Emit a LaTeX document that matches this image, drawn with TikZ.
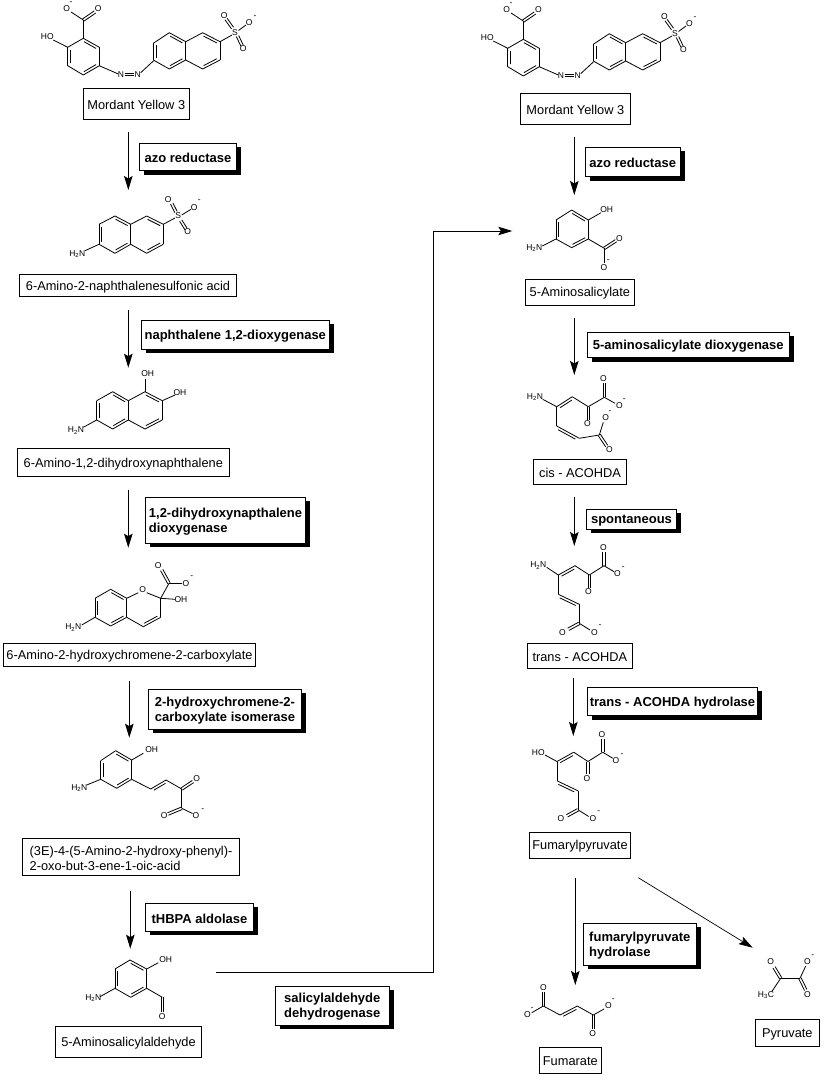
\documentclass[tikz,border=0pt]{standalone}
\usepackage{fontspec}
\setmainfont{Liberation Sans}
\usetikzlibrary{arrows.meta,calc}
\newcount\atomno
\tikzset{
  labelbox/.style={draw=black,fill=white,line width=1pt,inner sep=0pt},
  labeltext/.style={inner sep=0pt,yshift=-1.3pt,font=\fontsize{12.8}{15}\selectfont,align=left},
  enztext/.style={inner sep=0pt,yshift=-1.3pt,font=\fontsize{13}{15}\selectfont\bfseries,align=left},
  conn/.style={draw=black,line width=1pt,-{Stealth[length=14pt,width=8.5pt,inset=2.5pt]}},
  thinconn/.style={conn,line width=0.7pt},
  bondline/.style={draw=black,line width=0.8pt},
  atomlabel/.style={inner sep=0pt,font=\fontsize{8.5}{9}\selectfont}
}
% box with corners given
\newcommand\lbox[6]{\pgfmathsetmacro\bw{#4-#2}\pgfmathsetmacro\bh{#5-#3}\pgfmathsetmacro\bcx{(#2+#4)/2}\pgfmathsetmacro\bcy{(#3+#5)/2}
  \node[labelbox,minimum width=\bw pt,minimum height=\bh pt,label={[labeltext]center:{#6}}] (#1) at (\bcx,\bcy) {};}
\newcommand\ebox[6]{\pgfmathsetmacro\bw{#4-#2}\pgfmathsetmacro\bh{#5-#3}\pgfmathsetmacro\bcx{(#2+#4)/2}\pgfmathsetmacro\bcy{(#3+#5)/2}
  \fill[black] (#2+4.5,#3+4) rectangle (#4+4.5,#5+4);
  \node[labelbox,minimum width=\bw pt,minimum height=\bh pt,label={[enztext]center:{#6}}] (#1) at (\bcx,\bcy) {};}
\newcommand\arrowv[5]{\coordinate (#1s) at (#2,#3);\coordinate (#1e) at (#4,#5);\draw[conn] (#1s) -- (#1e);}
% bonds
\newcommand\bd[2]{\draw[bondline] (#1) -- (#2);}
\newcommand\rd[2]{\draw[bondline] (#1) -- (#2);
  \draw[bondline] ($(#1)!.12!(#2)!-2.6pt!90:(#2)$) -- ($(#2)!.12!(#1)!-2.6pt!-90:(#1)$);}
\newcommand\sd[2]{\draw[bondline] ($(#1)!1.3pt!90:(#2)$) -- ($(#2)!1.3pt!-90:(#1)$);
  \draw[bondline] ($(#1)!1.3pt!-90:(#2)$) -- ($(#2)!1.3pt!90:(#1)$);}
\newcommand\atm[2]{\global\advance\atomno by 1 \node[atomlabel] (atom\the\atomno) at (#1) {#2};}
\newcommand\chg[1]{\global\advance\atomno by 1 \node[atomlabel] (atom\the\atomno) at (#1) {-};}
\newcommand\HHN{H\textsubscript{2}N}
\newcommand\mordantmol{
  \rd{83.3,38.3}{99.3,47.3}\bd{99.3,47.3}{99.3,65.7}\rd{99.3,65.7}{83.3,75}\bd{83.3,75}{67.7,65.7}\rd{67.7,65.7}{67.7,47.3}\bd{67.7,47.3}{83.3,38.3}
  \bd{83.3,38.3}{83.3,20}\sd{83.3,20}{95,12}\bd{83.3,20}{71,12}
  \atm{98.3,9}{O}\atm{66.7,9}{O}\chg{71,3.5}\atm{47.3,36.7}{HO}\bd{53.3,40}{67.7,47.3}
  \bd{99.3,65.7}{118.3,74}\atm{121,75}{N}\atm{137.7,75}{N}\sd{124.5,74.5}{134,74.5}\bd{140.7,72.7}{153.3,61}
  \rd{153.3,60}{153.3,43.3}\bd{153.3,43.3}{169.3,32.7}\rd{169.3,32.7}{185.7,41.7}\bd{185.7,41.7}{185.7,60}\rd{185.7,60}{169.3,69}\bd{169.3,69}{153.3,60}
  \bd{185.7,41.7}{202.7,32.7}\rd{202.7,32.7}{220,41.7}\bd{220,41.7}{220,60}\rd{220,60}{202.7,69}\bd{202.7,69}{185.7,60}
  \bd{220,41.7}{232,35}\atm{235,32.3}{S}\sd{232.5,28}{226,19}\sd{237.5,36}{242,45.5}\bd{238.5,30.5}{246,25}
  \atm{224.3,15.7}{O}\atm{243.3,49}{O}\atm{249.3,22.7}{O}\chg{255,17}
}
\newcommand\acochain{
  \rd{558.3,575}{575,565.7}\bd{575,565.7}{589.3,575}\sd{589.3,575}{589.3,587.7}\atm{588.3,591.7}{O}
  \bd{589.3,575}{604,565.7}\sd{604,565.7}{604,552.3}\atm{603.3,547.7}{O}\bd{604,565.7}{614,571.7}\atm{617.3,574}{O}\chg{623.3,568.3}
  \bd{558.3,575}{558.3,594.3}\rd{558.3,594.3}{579.3,604.3}\bd{579.3,604.3}{579.3,623.3}
  \sd{579.3,623.3}{568.3,629.3}\atm{562.3,632.3}{O}\bd{579.3,623.3}{590,630}\atm{594.3,632.3}{O}\chg{600,626}
}
\begin{document}
\begin{tikzpicture}[x=1pt,y=-1pt]
\useasboundingbox (0,0) rectangle (836,1081);
\fill[white] (0,0) rectangle (836,1081);

% ---- left column molecules
\begin{scope}\mordantmol\end{scope}
\begin{scope}[shift={(440,1)}]\mordantmol\end{scope}

% 6-amino-2-naphthalenesulfonic acid
\rd{99,244.3}{99,224.3}\bd{99,224.3}{115,216}\rd{115,216}{130.7,224.3}\bd{130.7,224.3}{130.7,244.3}\rd{130.7,244.3}{115,253.3}\bd{115,253.3}{99,244.3}
\bd{130.7,224.3}{146.7,216}\rd{146.7,216}{163.3,224.3}\bd{163.3,224.3}{163.3,244.3}\rd{163.3,244.3}{146.7,253.3}\bd{146.7,253.3}{130.7,244.3}
\bd{163.3,224.3}{175,218}\atm{178.3,216}{S}\sd{176,212}{171.7,203.5}\sd{180.7,220.5}{186,229}\bd{181.7,215}{191,209.3}
\atm{168.3,200}{O}\atm{187.7,231.7}{O}\atm{194.3,207.3}{O}\chg{199.3,201.7}
\atm{77.3,254}{\HHN}\bd{85,250.7}{99,244.3}

% 6-amino-1,2-dihydroxynaphthalene
\rd{96.7,420}{96.7,400.7}\bd{96.7,400.7}{112.7,391.7}\rd{112.7,391.7}{128.3,400.7}\bd{128.3,400.7}{128.3,420}\rd{128.3,420}{112.7,429}\bd{112.7,429}{96.7,420}
\bd{128.3,400.7}{145,391.7}\rd{145,391.7}{162.3,400.7}\bd{162.3,400.7}{162.3,420}\rd{162.3,420}{145,429}\bd{145,429}{128.3,420}
\bd{145,391.7}{145,378.5}\atm{147.7,374}{OH}\bd{162.3,400.7}{175,395}\atm{180,392.3}{OH}
\atm{76,430.7}{\HHN}\bd{83.3,427.3}{96.7,420}

% chromene
\rd{95,617.3}{95,598.3}\bd{95,598.3}{110.7,589.3}\rd{110.7,589.3}{126.7,598.3}\bd{126.7,598.3}{126.7,617.3}\rd{126.7,617.3}{110.7,626}\bd{110.7,626}{95,617.3}
\bd{126.7,598.3}{138.3,592.7}\atm{142.7,590}{O}\bd{146.7,592.7}{160.7,598.3}\bd{160.7,598.3}{160.7,617.3}\rd{160.7,617.3}{143.3,626.7}\bd{143.3,626.7}{126.7,617.3}
\bd{160.7,598.3}{169,583.3}\sd{169,583.3}{161.7,570}\atm{158.3,565.7}{O}\bd{169,583.3}{181.7,583.3}\atm{186,583.3}{O}\chg{191.7,577.3}
\bd{160.7,598.3}{175,599.3}\atm{181,599.3}{OH}
\atm{73.3,627.7}{\HHN}\bd{81.7,625}{95,617.3}

% hydroxyphenyl oxobutenoic acid
\rd{100.7,779.3}{100.7,760.7}\bd{100.7,760.7}{115.7,750.7}\rd{115.7,750.7}{131.7,760}\bd{131.7,760}{131.7,779.3}\rd{131.7,779.3}{116.7,788.3}\bd{116.7,788.3}{100.7,779.3}
\bd{131.7,760}{143.3,753.3}\atm{151.7,750}{OH}\atm{79.3,788.3}{\HHN}\bd{86.7,785}{100.7,779.3}
\bd{131.7,779.3}{150.7,789}\rd{150.7,789}{166,780}\bd{166,780}{181.7,789}\sd{181.7,789}{193,781.5}\atm{196.7,779}{O}
\bd{181.7,789}{181.7,808.3}\sd{181.7,808.3}{168,814}\atm{164.3,816}{O}\bd{181.7,808.3}{192.5,813.5}\atm{196,816}{O}\chg{202.7,810}

% 5-aminosalicylaldehyde
\rd{115,988.3}{115,969}\bd{115,969}{130,960}\rd{130,960}{146.7,969}\bd{146.7,969}{146.7,988.3}\rd{146.7,988.3}{130.7,997.3}\bd{130.7,997.3}{115,988.3}
\bd{146.7,969}{158.3,962.7}\atm{165.7,960}{OH}\atm{93.3,998.3}{\HHN}\bd{100,996.7}{115,988.3}
\bd{146.7,988.3}{162.3,997.3}\sd{162.3,997.3}{162.3,1011.7}\atm{162.3,1016.7}{O}

% ---- right column molecules
% 5-aminosalicylate
\rd{556,239}{556,220}\bd{556,220}{571.7,210}\rd{571.7,210}{588.3,220}\bd{588.3,220}{588.3,239}\rd{588.3,239}{571.7,247.7}\bd{571.7,247.7}{556,239}
\bd{588.3,220}{601,212.7}\atm{606.7,210}{OH}\atm{534.3,248.3}{\HHN}\bd{542.3,246}{556,239}
\bd{588.3,239}{604.3,248.3}\sd{604.3,248.3}{616,240.7}\atm{619.3,239}{O}\bd{604.3,248.3}{604.3,262.7}\atm{604,267.3}{O}\chg{608.3,261}

% cis-ACOHDA
\atm{535,397.3}{\HHN}\bd{542.7,399.3}{556.7,406.7}
\rd{556.7,406.7}{572.3,396.7}\bd{572.3,396.7}{588.3,406.7}\sd{588.3,406.7}{588.3,420}\atm{587.3,424}{O}
\bd{588.3,406.7}{604.3,397.3}\sd{604.3,397.3}{604.3,383.3}\atm{603.3,379}{O}\bd{604.3,397.3}{615,403.3}\atm{619.3,406}{O}\chg{624.3,400.7}
\bd{556.7,406.7}{556.7,426}\rd{556.7,426}{579.3,438.3}\bd{579.3,438.3}{599.3,435}
\bd{599.3,435}{603.3,422.3}\atm{605.7,418}{O}\chg{610,412}\sd{599.3,435}{606.7,446}\atm{609.3,450}{O}

% trans-ACOHDA
\atm{538.3,565.7}{\HHN}\bd{546.7,567.3}{558.3,575}
\begin{scope}\acochain\end{scope}

% Fumarylpyruvate
\atm{538.3,752.3}{HO}\bd{545,755}{557,761.5}
\begin{scope}[shift={(-1.3,186.5)}]\acochain\end{scope}

% Fumarate
\atm{543.3,987.3}{O}\sd{543.3,1006}{543.3,991.7}\bd{543.3,1006}{531.7,1012.7}\atm{527.3,1015}{O}\chg{532.3,1009.3}
\bd{543.3,1006}{560,1015}\rd{560,1015}{577.3,1006}\bd{577.3,1006}{593.3,1015}\bd{593.3,1015}{604,1009}\atm{608.3,1006}{O}\chg{613.3,1000}
\sd{593.3,1015}{593.3,1029.3}\atm{592.7,1034}{O}

% Pyruvate
\atm{770.7,961.7}{O}\sd{780.7,978.3}{774,967.3}\bd{780.7,978.3}{800,978.3}\bd{800,978.3}{805.7,966}\atm{807.3,961.7}{O}\chg{812.7,956}
\sd{800,978.3}{805.7,990}\atm{807.3,994.3}{O}\bd{780.7,978.3}{771.7,991.7}\atm{766,995}{H\textsubscript{3}C}

% ---- name boxes
\lbox{mordL}{83.3}{88.3}{189.3}{119}{Mordant Yellow 3}
\lbox{naphsulf}{19.3}{274.3}{236.7}{296.7}{6-Amino-2-naphthalenesulfonic acid}
\lbox{dihydroxy}{17.3}{448.3}{229.3}{476.7}{6-Amino-1,2-dihydroxynaphthalene}
\lbox{chromene}{3.3}{643.3}{255.7}{666}{6-Amino-2-hydroxychromene-2-carboxylate}
\lbox{hbpa}{22.3}{838.3}{239.7}{875.7}{(3E)-4-(5-Amino-2-hydroxy-phenyl)-\\2-oxo-but-3-ene-1-oic-acid}
\lbox{aldehyde}{55.3}{1026.3}{201.7}{1057.3}{5-Aminosalicylaldehyde}
\lbox{mordR}{520}{93.7}{630.7}{124}{Mordant Yellow 3}
\lbox{salicylate}{525}{279.3}{634.7}{305.3}{5-Aminosalicylate}
\lbox{cisa}{533.3}{459.3}{626.7}{484.7}{cis - ACOHDA}
\lbox{transa}{527.3}{643.3}{632.3}{668.7}{trans - ACOHDA}
\lbox{fumpyr}{529.3}{832.3}{630.7}{858.3}{Fumarylpyruvate}
\lbox{fumarate}{539.3}{1047.3}{601.3}{1073.3}{Fumarate}
\lbox{pyruvate}{755.3}{1019.3}{819.3}{1046.3}{Pyruvate}

% ---- enzyme boxes
\ebox{azoL}{139.3}{143.3}{236.7}{170.7}{azo reductase}
\ebox{napdiox}{141.3}{320.3}{329.3}{349.3}{naphthalene 1,2-dioxygenase}
\ebox{dhndiox}{145.3}{497.3}{305.7}{543.3}{1,2-dihydroxynapthalene\\dioxygenase}
\ebox{isomerase}{148.3}{689.3}{301.7}{729.3}{2-hydroxychromene-2-\\carboxylate isomerase}
\ebox{aldolase}{145.3}{903.3}{253.7}{931.3}{tHBPA aldolase}
\ebox{aldehydrogenase}{275.3}{986.3}{389.3}{1025.3}{salicylaldehyde\\dehydrogenase}
\ebox{azoR}{585.3}{147}{680}{176.7}{azo reductase}
\ebox{asadiox}{587.3}{332.3}{789.3}{357.7}{5-aminosalicylate dioxygenase}
\ebox{spont}{586.7}{509.3}{676.3}{529.3}{spontaneous}
\ebox{transhyd}{587.3}{687.3}{757.7}{715.7}{trans - ACOHDA hydrolase}
\ebox{fumhyd}{583.3}{923.3}{696.3}{965.3}{fumarylpyruvate\\hydrolase}

% ---- connectors
\arrowv{a1}{128.3}{132}{128.3}{190}
\arrowv{a2}{128.3}{310}{128.3}{367.7}
\arrowv{a3}{128.3}{490}{128.3}{547.7}
\arrowv{a4}{129.3}{681}{129.3}{737.7}
\arrowv{a5}{130.3}{891}{130.3}{948.7}
\coordinate (h1) at (216,972.3);\coordinate (h2) at (433.7,972.3);\coordinate (h3) at (433.7,231);\coordinate (h4) at (512.3,231);
\draw[conn] (h1) -- (h2) -- (h3) -- (h4);
\arrowv{b1}{574.3}{136.7}{574.3}{195}
\arrowv{b2}{574.3}{317.7}{574.3}{375}
\arrowv{b3}{574.3}{496.7}{574.3}{546}
\arrowv{b4}{573.3}{677.7}{573.3}{736}
\arrowv{b5}{575.3}{877.7}{575.3}{985}
\coordinate (b6s) at (638.3,877.7);\coordinate (b6e) at (752.7,947.7);\draw[thinconn] (b6s) -- (b6e);
\end{tikzpicture}
\end{document}
